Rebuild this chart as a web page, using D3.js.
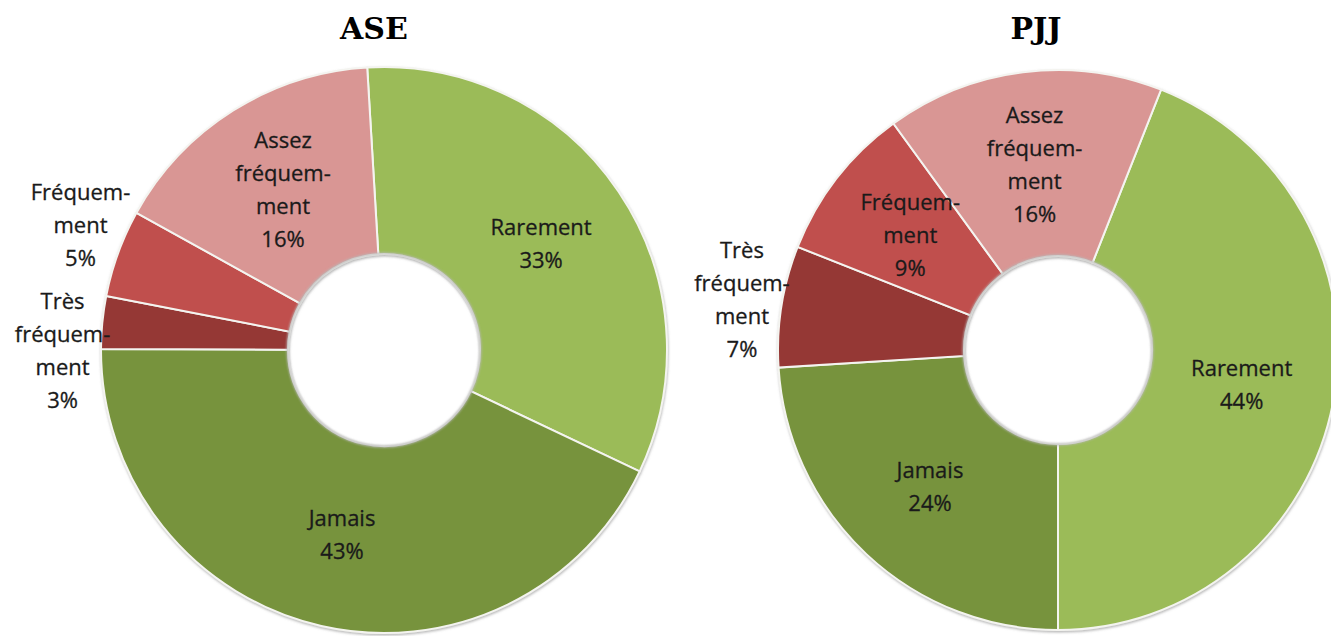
<!DOCTYPE html>
<html>
  <head>
    <meta charset="utf-8">
    <script src="https://d3js.org/d3.v7.min.js"></script>
    <title>ASE / PJJ</title>
    <style>
      body { margin: 0; background: #fff; }
      svg { display: block; }
    </style>
  </head>
  <body>
    <div id="plot"></div>
    <script>

    // data (clockwise order)
    const categories = ["Rarement", "Jamais", "Très fréquement", "Fréquement", "Assez fréquement"];
    const labelLines = [["Rarement"], ["Jamais"], ["Très", "fréquem-", "ment"], ["Fréquem-", "ment"], ["Assez", "fréquem-", "ment"]];
    const aseValues = [33, 43, 3, 5, 16];
    const pjjValues = [44, 24, 7, 9, 16];
    const titles = ["ASE", "PJJ"];

    const colors = d3.scaleOrdinal()
      .domain(categories)
      .range(["#9bbb59", "#77933c", "#953735", "#c0504d", "#d99694"]);

    const width = 1331, height = 636;

    let svg = d3.select("#plot")
      .append("svg")
        .attr("width", width)
        .attr("height", height);

    // soft shadow like the office chart
    const defs = svg.append("defs");
    defs.append("filter")
        .attr("id", "shadow")
        .attr("x", "-10%").attr("y", "-10%")
        .attr("width", "120%").attr("height", "120%")
      .append("feDropShadow")
        .attr("dx", 0.5).attr("dy", 1.5)
        .attr("stdDeviation", 1.3)
        .attr("flood-color", "#7f7f7f")
        .attr("flood-opacity", 0.55);
    defs.append("filter")
        .attr("id", "blur")
      .append("feGaussianBlur")
        .attr("stdDeviation", 0.8);

    const lineHeight = 33;

    function donut(values, opts) {
      const g = svg.append("g")
        .attr("transform", "translate(" + opts.cx + "," + opts.cy + ")");

      const start = opts.start * Math.PI / 180;
      const pie = d3.pie()
        .sort(null)
        .value(function(d) { return d; })
        .startAngle(start)
        .endAngle(start + 2 * Math.PI);

      const arc = d3.arc()
        .innerRadius(opts.inner)
        .outerRadius(opts.outer);

      const arcs = pie(values);

      // slices
      g.append("g")
        .attr("filter", "url(#shadow)")
        .selectAll("path")
        .data(arcs)
        .enter()
        .append("path")
          .attr("d", arc)
          .attr("fill", function(d, i) { return colors(categories[i]); })
          .attr("stroke", "#f4f4f0")
          .attr("stroke-width", 2);

      // grey rim round the hole
      g.append("circle")
        .attr("r", opts.inner + 0.5)
        .attr("fill", "none")
        .attr("stroke", "#b8b8b8")
        .attr("stroke-width", 2)
        .attr("filter", "url(#blur)");

      // label positions: centroid inside, outside for the small slices
      const labels = arcs.map(function(d, i) {
        const lines = labelLines[i].concat([d.data + "%"]);
        const mid = (d.startAngle + d.endAngle) / 2;
        let pos;
        const outside = d.data < 8;
        if (outside) {
          const r = opts.outer + 40;
          pos = [r * Math.sin(mid), -r * Math.cos(mid)];
        } else {
          pos = arc.centroid(d);
        }
        return { lines: lines, x: pos[0], y: pos[1], outside: outside };
      });

      // push overlapping outside labels apart
      const outs = labels.filter(function(l) { return l.outside; })
        .sort(function(a, b) { return a.y - b.y; });
      for (let k = 1; k < outs.length; k++) {
        const prev = outs[k - 1], cur = outs[k];
        const prevBottom = prev.y + prev.lines.length * lineHeight / 2 + 10;
        const curTop = cur.y - cur.lines.length * lineHeight / 2;
        if (curTop < prevBottom) {
          const gap = prevBottom - curTop;
          prev.y -= gap * 0.3;
          cur.y += gap * 0.7;
        }
      }

      g.selectAll("text.lab")
        .data(labels)
        .enter()
        .append("text")
          .attr("class", "lab")
          .attr("text-anchor", "middle")
          .style("font-family", "'Open Sans', sans-serif")
          .style("font-size", "22px")
          .attr("fill", "#1a1a1a")
          .attr("stroke", "#1a1a1a")
          .attr("stroke-width", 0.3)
          .each(function(l) {
            const t = d3.select(this);
            const y0 = l.y - (l.lines.length - 1) * lineHeight / 2;
            l.lines.forEach(function(s, j) {
              t.append("tspan")
                .attr("x", l.x)
                .attr("y", y0 + j * lineHeight)
                .attr("dy", "0.35em")
                .text(s);
            });
          });

      // title
      svg.append("text")
        .text(opts.title)
        .attr("x", opts.titleX)
        .attr("y", 39)
        .attr("text-anchor", "middle")
        .style("font-family", "'DejaVu Serif', serif")
        .style("font-weight", "bold")
        .style("font-size", "30px")
        .attr("fill", "#000");
    }

    donut(aseValues, { cx: 384, cy: 350, outer: 283, inner: 96, start: -3.4, title: titles[0], titleX: 374 });
    donut(pjjValues, { cx: 1058, cy: 350, outer: 280, inner: 94, start: 21.6, title: titles[1], titleX: 1036 });

    </script>
  </body>
</html>
